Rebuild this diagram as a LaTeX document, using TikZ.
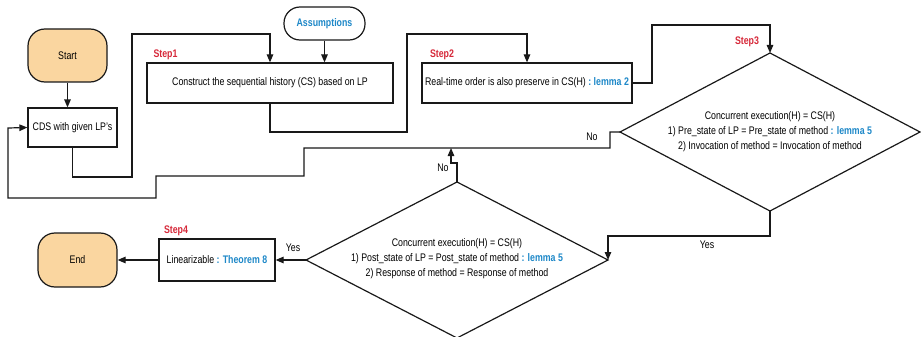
\documentclass[tikz,border=0pt]{standalone}
\usepackage{fontspec}
\setmainfont[FakeStretch=0.8]{Liberation Sans}
\usetikzlibrary{shapes.geometric,arrows.meta}
\definecolor{bl}{RGB}{30,136,200}
\definecolor{rd}{RGB}{214,40,57}
\definecolor{orfill}{RGB}{250,214,160}
\definecolor{ln}{RGB}{25,25,25}
\begin{document}
\begin{tikzpicture}[x=1pt,y=-1pt,
  every node/.style={font=\fontsize{11}{15}\selectfont, inner sep=0pt},
  box/.style={draw=ln, line width=1.2pt, rectangle, align=center},
  pill/.style={draw=ln, line width=1.2pt, rectangle, rounded corners=17pt, align=center},
  dia/.style={draw=ln, line width=1.2pt, diamond, inner sep=0pt, outer sep=0pt},
  diatext/.style={align=center},
  arr/.style={draw=ln, line width=1.2pt, -{Triangle[length=8pt,width=6.5pt]}},
  steplbl/.style={text=rd, font=\fontsize{11}{13}\selectfont\bfseries}
]
\useasboundingbox (0,0) rectangle (921,337);

\node[pill, fill=orfill, minimum width=79pt, minimum height=53pt] (start) at (67.5,55.5) {Start};
\node[pill, fill=orfill, minimum width=79pt, minimum height=54pt] (end) at (77.5,260) {End};
\node[pill, fill=white, rounded corners=16pt, minimum width=81pt, minimum height=33pt] (asm) at (324.5,23.5) {\textcolor{bl}{\bfseries Assumptions}};
\node[box, minimum width=89pt, minimum height=39pt] (cds) at (72.5,127.5) {CDS with given LP's};
\node[box, minimum width=246pt, minimum height=40pt] (step1) at (270,83) {Construct the sequential history (CS) based on LP};
\node[box, minimum width=210pt, minimum height=40pt] (step2) at (527,83) {Real-time order is also preserve in CS(H) \textcolor{bl}{\bfseries : lemma 2}};
\node[dia, minimum width=300pt, minimum height=158pt] (d1) at (770,132) {};
\node[diatext] (d1t) at (770,132) {Concurrent execution(H) = CS(H)\\1) Pre\_state of LP = Pre\_state of method \textcolor{bl}{\bfseries : lemma 5}\\2) Invocation of method = Invocation of method};
\node[dia, minimum width=302pt, minimum height=156pt] (d2) at (457,260) {};
\node[diatext] (d2t) at (457,259) {Concurrent execution(H) = CS(H)\\1) Post\_state of LP = Post\_state of method \textcolor{bl}{\bfseries : lemma 5}\\2) Response of method = Response of method};
\node[box, minimum width=116pt, minimum height=42pt] (step4) at (217,260) {Linearizable \textcolor{bl}{\bfseries : Theorem 8}};

\node[steplbl] (l1) at (165.5,55) {Step1};
\node[steplbl] (l2) at (442,55) {Step2};
\node[steplbl] (l3) at (747,42) {Step3};
\node[steplbl] (l4) at (176,231) {Step4};

\coordinate (nojoin) at (451,148);

\draw[arr] (start.south) -- (start.south |- cds.north);
\draw[arr] (cds.south) |- (132,177) -- (132,34) -| (step1.north);
\draw[arr] (asm.south) -- (asm.south |- step1.north);
\draw[arr] (step1.south) |- (407,132) -- (407,34) -| (step2.north);
\draw[arr] (step2.east) -| (652,25) -| (d1.north);
\draw[arr] (d1.west) -| (610,148) -| (304,176) -| (156,198) -| (8,128) -- (cds.west);
\draw[arr] (d2.north) |- (451,163) -- (nojoin);
\draw[arr] (d1.south) -- (770,236) -| (d2.east);
\draw[arr] (d2.west) -- (step4.east);
\draw[arr] (step4.west) -- (end.east);

\node (no1) at (592,137) {No};
\node (no2) at (443,168) {No};
\node (yes1) at (707,245) {Yes};
\node (yes2) at (293,248) {Yes};
\end{tikzpicture}
\end{document}
